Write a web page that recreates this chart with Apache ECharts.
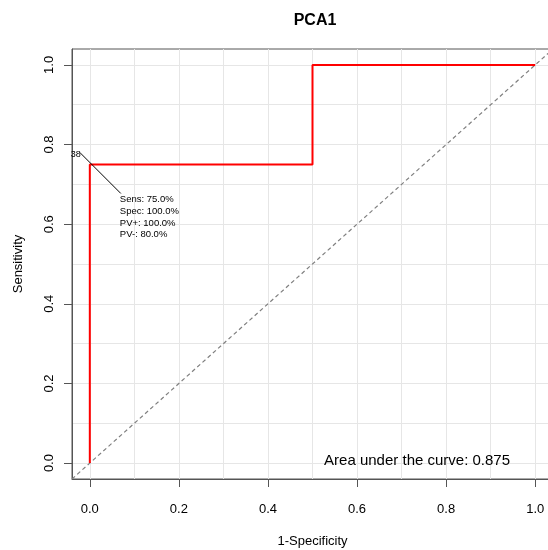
<!DOCTYPE html>
<html>
<head>
<meta charset="utf-8">
<script src="https://cdn.jsdelivr.net/npm/echarts@6/dist/echarts.min.js"></script>
<style>
  html, body { margin: 0; padding: 0; background: #fff; }
  #main { width: 548px; height: 550px; }
</style>
</head>
<body>
<div id="main"></div>
<script>
// ROC curve points: [1-Specificity, Sensitivity]
var rocPoints = [[0, 0], [0, 0.75], [0.5, 0.75], [0.5, 1], [1, 1]]
var tickValues = [0, 0.2, 0.4, 0.6, 0.8, 1.0]
var gridValues = [0, 0.1, 0.2, 0.3, 0.4, 0.5, 0.6, 0.7, 0.8, 0.9, 1.0]
var axisMin = -0.04
var axisMax = 1.04
var threshold = [0, 0.75]
var thresholdLabel = '38'
var statsLines = ['Sens: 75.0%', 'Spec: 100.0%', 'PV+: 100.0%', 'PV-: 80.0%']
var aucText = 'Area under the curve: 0.875'

var font = 'Liberation Sans, Arial, Helvetica, sans-serif'
var myChart = echarts.init(document.getElementById('main'))

var gridLines = []
gridValues.forEach(function (v) {
  gridLines.push({ xAxis: v })
  gridLines.push({ yAxis: v })
})

var option = {
  animation: false,
  backgroundColor: '#fff',
  title: {
    text: 'PCA1',
    left: 310,
    top: 8,
    textAlign: 'center',
    textStyle: { fontFamily: font, fontSize: 16, fontWeight: 'bold', color: '#000' }
  },
  grid: {
    left: 72,
    top: 49,
    width: 481,
    height: 430,
    outerBoundsMode: 'none',
    containLabel: false,
    show: true,
    borderColor: '#555',
    borderWidth: 1,
    backgroundColor: 'transparent'
  },
  xAxis: {
    type: 'value',
    min: axisMin,
    max: axisMax,
    name: '1-Specificity',
    nameLocation: 'middle',
    nameGap: 56,
    nameTextStyle: { fontFamily: font, fontSize: 13, color: '#000' },
    axisLine: { show: true, onZero: false, lineStyle: { color: '#555' } },
    splitLine: { show: false },
    axisTick: { show: true, inside: false, length: 8, customValues: tickValues, lineStyle: { color: '#555' } },
    axisLabel: {
      customValues: tickValues,
      margin: 24,
      fontFamily: font,
      fontSize: 13,
      color: '#000',
      formatter: function (v) { return v.toFixed(1) }
    }
  },
  yAxis: {
    type: 'value',
    min: axisMin,
    max: axisMax,
    name: 'Sensitivity',
    nameLocation: 'middle',
    nameGap: 47,
    nameTextStyle: { fontFamily: font, fontSize: 13, color: '#000' },
    axisLine: { show: true, onZero: false, lineStyle: { color: '#555' } },
    splitLine: { show: false },
    axisTick: { show: true, inside: false, length: 8, customValues: tickValues, lineStyle: { color: '#555' } },
    axisLabel: {
      customValues: tickValues,
      rotate: 90,
      margin: 16,
      fontFamily: font,
      fontSize: 13,
      color: '#000',
      formatter: function (v) { return v.toFixed(1) }
    }
  },
  series: [
    {
      name: 'grid',
      type: 'line',
      data: [],
      silent: true,
      z: 0,
      markLine: {
        silent: true,
        z: 0,
        symbol: ['none', 'none'],
        label: { show: false },
        emphasis: { disabled: true },
        lineStyle: { color: '#e6e6e6', width: 1, type: 'solid' },
        data: gridLines
      }
    },
    {
      name: 'diagonal',
      type: 'line',
      data: [[axisMin, axisMin], [axisMax, axisMax]],
      symbol: 'none',
      silent: true,
      lineStyle: { color: '#808080', width: 1.2, type: [4, 3] },
      z: 2
    },
    {
      name: 'ROC',
      type: 'line',
      data: rocPoints,
      symbol: 'none',
      lineStyle: { color: '#ff0000', width: 2 },
      z: 8
    }
  ]
}
myChart.setOption(option)

// threshold annotation and AUC text
var p = myChart.convertToPixel({ gridIndex: 0 }, threshold)
var aucPos = myChart.convertToPixel({ gridIndex: 0 }, [0.526, 0.006])
var graphics = [
  {
    type: 'line',
    shape: { x1: p[0] - 10, y1: p[1] - 12, x2: p[0] + 31, y2: p[1] + 29 },
    style: { stroke: '#000', lineWidth: 1 },
    z: 10
  },
  {
    type: 'text',
    x: p[0] - 9,
    y: p[1] - 10,
    style: { text: thresholdLabel, fontFamily: font, fontSize: 9, fill: '#000', align: 'right', verticalAlign: 'middle' },
    z: 10
  },
  {
    type: 'text',
    x: aucPos[0],
    y: aucPos[1],
    style: { text: aucText, fontFamily: font, fontSize: 15, fill: '#000', align: 'left', verticalAlign: 'middle' },
    z: 10
  }
]
statsLines.forEach(function (s, i) {
  graphics.push({
    type: 'text',
    x: p[0] + 30,
    y: p[1] + 35 + i * 11.8,
    style: { text: s, fontFamily: font, fontSize: 9.5, fill: '#000', align: 'left', verticalAlign: 'middle' },
    z: 10
  })
})
myChart.setOption({ graphic: graphics })
</script>
</body>
</html>
